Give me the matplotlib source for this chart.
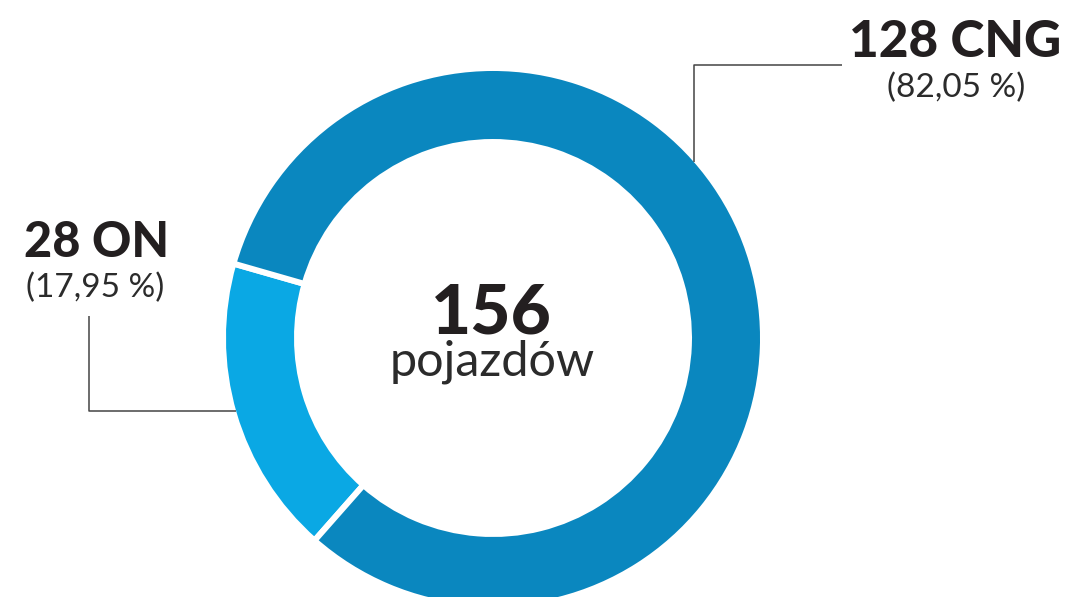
# Donut chart - vehicles by fuel type

import numpy as np
import matplotlib.pyplot as plt

# data
fuel_types = ['ON', 'CNG']
vehicles = [28, 128]
colors = ['#0aa8e4', '#0a87bf']
unit_label = 'pojazdów'

total = sum(vehicles)
shares = [v / total * 100 for v in vehicles]

fig = plt.figure(figsize=(10.65, 5.97), dpi=100)
ax = fig.add_axes([0, 0, 1, 1])

# ring geometry (pixels, y up)
cx, cy = 493, 259
r_out = 270
ring_w = 74

ax.pie(vehicles, colors=colors, startangle=164, counterclock=True,
       center=(cx, cy), radius=r_out, frame=True,
       wedgeprops=dict(width=ring_w, edgecolor='white', linewidth=4.3))
ax.set_xlim(0, 1065)
ax.set_ylim(0, 597)
ax.set_aspect('equal')
ax.axis('off')

r_vis = r_out - 3

# leader lines
line_kw = dict(color='#444444', lw=1.1, solid_capstyle='butt')
# CNG: vertical from ring up, then right
x_cng = 694
y_hit = cy + np.sqrt(r_vis**2 - (x_cng - cx)**2)
ax.plot([x_cng, x_cng, 842], [y_hit, 532, 532], **line_kw)
# ON: vertical down from label, then right to ring
y_on = 597 - 411
x_hit = cx - np.sqrt(r_vis**2 - (y_on - cy)**2)
ax.plot([89, 89, x_hit], [597 - 316, y_on, y_on], **line_kw)

def pct(v):
    return '(' + ('%.2f' % v).replace('.', ',') + ' %)'

bold = dict(family='Lato', weight='black', color='#231f20', ha='center', va='baseline')
regular = dict(family='Lato', weight='normal', color='#2b2b2b', ha='center', va='baseline')

# labels
ax.text(955, 540, '%d %s' % (vehicles[1], fuel_types[1]), fontsize=37, **bold)
ax.text(956, 500, pct(shares[1]), fontsize=24, **regular)
ax.text(97, 340, '%d %s' % (vehicles[0], fuel_types[0]), fontsize=35, **bold)
ax.text(95, 300, pct(shares[0]), fontsize=24, **regular)

# centre
ax.text(491, 264, str(total), fontsize=50, **bold)
ax.text(492, 221, unit_label, fontsize=35, **regular)

fig.savefig('out.png', dpi=100)
